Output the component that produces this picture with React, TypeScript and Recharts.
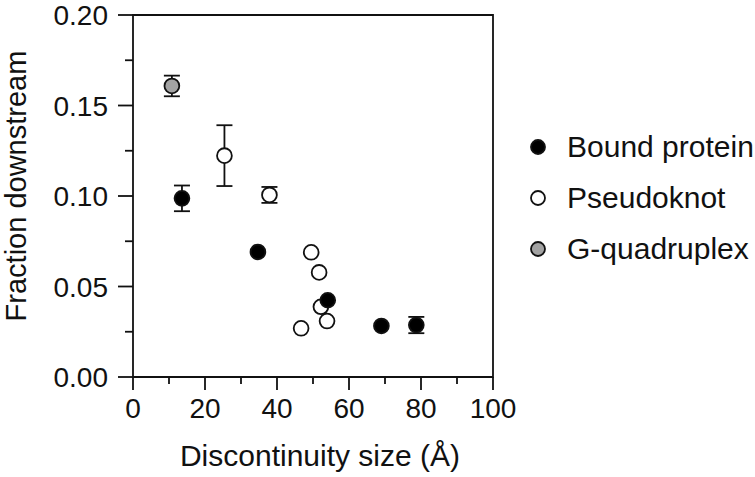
import { ScatterChart, Scatter, XAxis, YAxis, ErrorBar, ReferenceArea } from 'recharts'

// values
const boundX = [13.6, 34.7, 54.1, 69.0, 78.7]
const boundY = [0.0987, 0.0691, 0.0424, 0.0282, 0.0287]
const boundErr = [0.0071, 0, 0, 0, 0.0045]

const pseudoX = [25.4, 37.9, 49.5, 51.7, 52.2, 53.9, 46.7]
const pseudoY = [0.1223, 0.1006, 0.0689, 0.0578, 0.0388, 0.0309, 0.0269]
const pseudoErr = [0.0168, 0.0044, 0, 0, 0, 0, 0]

const quadX = [10.8]
const quadY = [0.1608]
const quadErr = [0.0057]

const xTicks = [0, 10, 20, 30, 40, 50, 60, 70, 80, 90, 100]
const yTicks = [0, 0.025, 0.05, 0.075, 0.1, 0.125, 0.15, 0.175, 0.2]

const seriesNames = ['Bound protein', 'Pseudoknot', 'G-quadruplex']
const seriesFills = ['#000000', '#ffffff', '#a3a3a3']

const FONT = '"Liberation Sans", Arial, sans-serif'
const INK = '#111'

function rows(xs: number[], ys: number[], errs: number[]) {
  return xs.map((x, i) => ({ x, y: ys[i], err: errs[i] }))
}

const dot = (fill: string) => (props: any) => (
  <circle cx={props.cx} cy={props.cy} r={7.4} fill={fill} stroke={INK} strokeWidth={1.8} />
)

function XTick({ x, y, payload }: any) {
  const major = payload.value % 20 === 0
  return (
    <g>
      <line x1={x} x2={x} y1={y} y2={y + (major ? 13 : 7)} stroke={INK} strokeWidth={1.8} />
      {major && (
        <text x={x} y={y + 41} textAnchor="middle" fontSize={28} fontFamily={FONT} fill={INK}>
          {payload.value}
        </text>
      )}
    </g>
  )
}

function YTick({ x, y, payload }: any) {
  const major = Math.round(payload.value * 1000) % 50 === 0
  return (
    <g>
      <line x1={x} x2={x - (major ? 15 : 8)} y1={y} y2={y} stroke={INK} strokeWidth={1.8} />
      {major && (
        <text x={x - 25} y={y + 10} textAnchor="end" fontSize={28} fontFamily={FONT} fill={INK}>
          {payload.value.toFixed(2)}
        </text>
      )}
    </g>
  )
}

export default function App() {
  const data = [
    rows(boundX, boundY, boundErr),
    rows(pseudoX, pseudoY, pseudoErr),
    rows(quadX, quadY, quadErr),
  ]
  // draw open circles first so the filled ones sit on top
  const order = [1, 0, 2]

  return (
    <div style={{ position: 'absolute', left: 0, top: 0, width: 755, height: 477, background: '#fff' }}>
      <ScatterChart width={755} height={477} margin={{ top: 15, right: 262, bottom: 0, left: 0 }}>
        <XAxis
          type="number"
          dataKey="x"
          domain={[0, 100]}
          ticks={xTicks}
          interval={0}
          height={100}
          axisLine={false}
          tickLine={false}
          tickSize={0}
          tickMargin={0}
          tick={<XTick />}
          label={{
            content: ({ viewBox }: any) => (
              <text
                x={viewBox.x + viewBox.width / 2 + 7}
                y={viewBox.y + 89}
                textAnchor="middle"
                fontSize={30}
                fontFamily={FONT}
                fill={INK}
              >
                Discontinuity size (Å)
              </text>
            ),
          }}
        />
        <YAxis
          type="number"
          dataKey="y"
          domain={[0, 0.2]}
          ticks={yTicks}
          interval={0}
          width={133}
          axisLine={false}
          tickLine={false}
          tickSize={0}
          tickMargin={0}
          tick={<YTick />}
          label={{
            content: ({ viewBox }: any) => {
              const cx = 26
              const cy = viewBox.y + viewBox.height / 2 - 10
              return (
                <text
                  x={cx}
                  y={cy}
                  transform={`rotate(-90, ${cx}, ${cy})`}
                  textAnchor="middle"
                  fontSize={29}
                  fontFamily={FONT}
                  fill={INK}
                >
                  Fraction downstream
                </text>
              )
            },
          }}
        />
        <ReferenceArea x1={0} x2={100} y1={0} y2={0.2} fill="none" stroke={INK} strokeWidth={1.8} />
        {order.map((i) => (
          <Scatter
            key={seriesNames[i]}
            name={seriesNames[i]}
            data={data[i]}
            shape={dot(seriesFills[i])}
            isAnimationActive={false}
          >
            <ErrorBar dataKey="err" direction="y" width={8} stroke={INK} strokeWidth={1.8} />
          </Scatter>
        ))}
      </ScatterChart>
      <div style={{ position: 'absolute', left: 527, top: 121, fontFamily: FONT, fontSize: 30, color: INK }}>
        {seriesNames.map((name, i) => (
          <div key={name} style={{ display: 'flex', alignItems: 'center', height: 51, whiteSpace: 'nowrap' }}>
            <svg width={22} height={22} style={{ marginRight: 18 }}>
              <circle cx={11} cy={11} r={7} fill={seriesFills[i]} stroke={INK} strokeWidth={1.8} />
            </svg>
            <span>{name}</span>
          </div>
        ))}
      </div>
    </div>
  )
}
